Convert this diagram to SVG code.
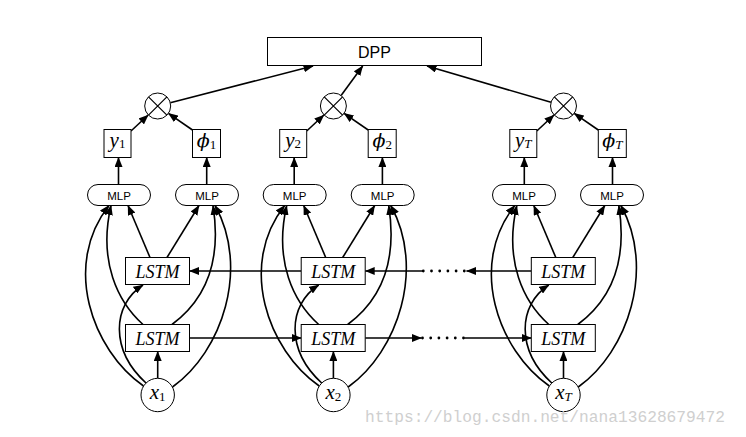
<svg xmlns="http://www.w3.org/2000/svg" width="746" height="437" viewBox="0 0 746 437">
<defs>
<marker id="ah" markerUnits="userSpaceOnUse" markerWidth="10" markerHeight="8" refX="9.5" refY="4" orient="auto"><path d="M0,0 L10,4 L0,8 z" fill="#000"/></marker>
<style>
.box{fill:#fff;stroke:#000;stroke-width:1}
.c{fill:none;stroke:#000;stroke-width:1.6;marker-end:url(#ah)}
.dots{fill:none;stroke:#000;stroke-width:2.8;stroke-linecap:round;stroke-dasharray:0 8.2}
.m{font-family:"Liberation Serif","DejaVu Serif",serif;font-style:italic;fill:#000}
.ph{font-family:"DejaVu Serif","Liberation Serif",serif;font-style:italic}
.sub{font-style:normal}
.s{font-family:"Liberation Sans",Arial,sans-serif;fill:#000;text-anchor:middle}
.mul{fill:#fff;stroke:#000;stroke-width:1}
.x{stroke:#000;stroke-width:1.2}
</style>
</defs>
<rect width="746" height="437" fill="#fff"/>

<g id="connectors">
  <!-- to DPP -->
  <path class="c" d="M170.3,102.8 L313,66"/>
  <path class="c" d="M341.1,95.5 L362.7,66"/>
  <path class="c" d="M551,102.3 L427,66"/>
  <!-- horizontal recurrences -->
  <path class="c" d="M301.2,271 L189.5,271"/>
  <path class="c" d="M531.3,271 L466.5,271"/>
  <path class="dots" d="M423.3,271 L465,271"/>
  <path class="c" d="M423.3,271 L365.2,271"/>
  <path class="c" d="M189.5,338 L301.2,338"/>
  <path class="c" d="M365.2,338 L421.5,338"/>
  <path class="dots" d="M422.5,338 L465,338"/>
  <path class="c" d="M464.3,338 L531.3,338"/>
  <!-- per-column connectors -->
  <g id="col-conn-1">
    <path class="c" d="M118.5,184.5 L118.5,157.5"/>
    <path class="c" d="M206.7,184.5 L206.7,157.5"/>
    <path class="c" d="M131,131 L148.2,115"/>
    <path class="c" d="M192.5,130 L168.4,113.4"/>
    <path class="c" d="M150,257.5 L128,205.5"/>
    <path class="c" d="M167,257.5 L199,205.5"/>
    <path class="c" d="M143,324.5 C118,302 98,262 111,205.5"/>
    <path class="c" d="M172,324.5 C205,300 222,262 213,205.5"/>
    <path class="c" d="M143.5,386 C92,350 62,265 109,205.5"/>
    <path class="c" d="M172.5,387 C222,352 250,268 215,205.5"/>
    <path class="c" d="M146,383 C110,350 112,305 143,285"/>
    <path class="c" d="M157.7,378.3 L157.7,351.5"/>
  </g>
  <g id="col-conn-2" transform="translate(175.7,0)">
    <path class="c" d="M118.5,184.5 L118.5,157.5"/>
    <path class="c" d="M206.7,184.5 L206.7,157.5"/>
    <path class="c" d="M131,131 L148.2,115"/>
    <path class="c" d="M192.5,130 L168.4,113.4"/>
    <path class="c" d="M150,257.5 L128,205.5"/>
    <path class="c" d="M167,257.5 L199,205.5"/>
    <path class="c" d="M143,324.5 C118,302 98,262 111,205.5"/>
    <path class="c" d="M172,324.5 C205,300 222,262 213,205.5"/>
    <path class="c" d="M143.5,386 C92,350 62,265 109,205.5"/>
    <path class="c" d="M172.5,387 C222,352 250,268 215,205.5"/>
    <path class="c" d="M146,383 C110,350 112,305 143,285"/>
    <path class="c" d="M157.7,378.3 L157.7,351.5"/>
  </g>
  <g id="col-conn-T" transform="translate(405.8,0)">
    <path class="c" d="M118.5,184.5 L118.5,157.5"/>
    <path class="c" d="M206.7,184.5 L206.7,157.5"/>
    <path class="c" d="M131,131 L148.2,115"/>
    <path class="c" d="M192.5,130 L168.4,113.4"/>
    <path class="c" d="M150,257.5 L128,205.5"/>
    <path class="c" d="M167,257.5 L199,205.5"/>
    <path class="c" d="M143,324.5 C118,302 98,262 111,205.5"/>
    <path class="c" d="M172,324.5 C205,300 222,262 213,205.5"/>
    <path class="c" d="M143.5,386 C92,350 62,265 109,205.5"/>
    <path class="c" d="M172.5,387 C222,352 250,268 215,205.5"/>
    <path class="c" d="M146,383 C110,350 112,305 143,285"/>
    <path class="c" d="M157.7,378.3 L157.7,351.5"/>
  </g>
</g>

<g id="dpp">
  <rect class="box" x="267.5" y="37.5" width="214" height="28"/>
  <text class="s" x="374.5" y="57.5" font-size="16">DPP</text>
</g>

<!-- column 1 -->
<g id="mul1"><circle class="mul" cx="157.7" cy="106" r="13"/><path class="x" d="M148.5,96.8 L166.9,115.2 M166.9,96.8 L148.5,115.2"/></g>
<g id="y1"><rect class="box" x="104" y="129.5" width="27" height="28"/><text class="m" x="117.5" y="147" text-anchor="middle" font-size="21">y<tspan class="sub" font-size="13" dy="1">1</tspan></text></g>
<g id="phi1"><rect class="box" x="192.5" y="129.5" width="28" height="28"/><text class="m" x="206.5" y="147" text-anchor="middle" font-size="19"><tspan class="ph">ϕ</tspan><tspan class="sub" font-size="13" dy="1.5">1</tspan></text></g>
<g id="mlp1a"><rect class="box" x="87.5" y="184.5" width="63" height="21" rx="10.5"/><text class="s" x="119" y="199.5" font-size="11.5">MLP</text></g>
<g id="mlp1b"><rect class="box" x="175.5" y="184.5" width="63" height="21" rx="10.5"/><text class="s" x="207" y="199.5" font-size="11.5">MLP</text></g>
<g id="lstm1u"><rect class="box" x="125.5" y="257.5" width="64" height="27"/><text class="m" x="157.5" y="277.5" text-anchor="middle" font-size="18">LSTM</text></g>
<g id="lstm1l"><rect class="box" x="125.5" y="324.5" width="64" height="27"/><text class="m" x="157.5" y="344.5" text-anchor="middle" font-size="18">LSTM</text></g>
<g id="x1"><circle class="mul" cx="157.7" cy="395" r="16.7"/><text class="m" x="157.7" y="399" text-anchor="middle" font-size="21">x<tspan class="sub" font-size="13" dy="1.5">1</tspan></text></g>

<!-- column 2 -->
<g id="mul2"><circle class="mul" cx="333.4" cy="106" r="13"/><path class="x" d="M324.2,96.8 L342.6,115.2 M342.6,96.8 L324.2,115.2"/></g>
<g id="y2"><rect class="box" x="279.7" y="129.5" width="27" height="28"/><text class="m" x="293.2" y="147" text-anchor="middle" font-size="21">y<tspan class="sub" font-size="13" dy="1">2</tspan></text></g>
<g id="phi2"><rect class="box" x="368.2" y="129.5" width="28" height="28"/><text class="m" x="382.2" y="147" text-anchor="middle" font-size="19"><tspan class="ph">ϕ</tspan><tspan class="sub" font-size="13" dy="1.5">2</tspan></text></g>
<g id="mlp2a"><rect class="box" x="263.2" y="184.5" width="63" height="21" rx="10.5"/><text class="s" x="294.7" y="199.5" font-size="11.5">MLP</text></g>
<g id="mlp2b"><rect class="box" x="351.2" y="184.5" width="63" height="21" rx="10.5"/><text class="s" x="382.7" y="199.5" font-size="11.5">MLP</text></g>
<g id="lstm2u"><rect class="box" x="301.2" y="257.5" width="64" height="27"/><text class="m" x="333.2" y="277.5" text-anchor="middle" font-size="18">LSTM</text></g>
<g id="lstm2l"><rect class="box" x="301.2" y="324.5" width="64" height="27"/><text class="m" x="333.2" y="344.5" text-anchor="middle" font-size="18">LSTM</text></g>
<g id="x2"><circle class="mul" cx="333.4" cy="395" r="16.7"/><text class="m" x="333.4" y="399" text-anchor="middle" font-size="21">x<tspan class="sub" font-size="13" dy="1.5">2</tspan></text></g>

<!-- column T -->
<g id="mulT"><circle class="mul" cx="563.5" cy="106" r="13"/><path class="x" d="M554.3,96.8 L572.7,115.2 M572.7,96.8 L554.3,115.2"/></g>
<g id="yT"><rect class="box" x="509.8" y="129.5" width="27" height="28"/><text class="m" x="523.3" y="147" text-anchor="middle" font-size="21">y<tspan font-size="13" dy="1">T</tspan></text></g>
<g id="phiT"><rect class="box" x="598.3" y="129.5" width="28" height="28"/><text class="m" x="612.3" y="147" text-anchor="middle" font-size="19"><tspan class="ph">ϕ</tspan><tspan font-size="13" dy="1.5">T</tspan></text></g>
<g id="mlpTa"><rect class="box" x="492.5" y="184.5" width="63" height="21" rx="10.5"/><text class="s" x="524" y="199.5" font-size="11.5">MLP</text></g>
<g id="mlpTb"><rect class="box" x="580.5" y="184.5" width="63" height="21" rx="10.5"/><text class="s" x="612" y="199.5" font-size="11.5">MLP</text></g>
<g id="lstmTu"><rect class="box" x="531.3" y="257.5" width="64" height="27"/><text class="m" x="563.3" y="277.5" text-anchor="middle" font-size="18">LSTM</text></g>
<g id="lstmTl"><rect class="box" x="531.3" y="324.5" width="64" height="27"/><text class="m" x="563.3" y="344.5" text-anchor="middle" font-size="18">LSTM</text></g>
<g id="xT"><circle class="mul" cx="563.5" cy="395" r="16.7"/><text class="m" x="563.5" y="399" text-anchor="middle" font-size="21">x<tspan font-size="13" dy="1.5">T</tspan></text></g>

<text x="365" y="422" font-family="'Liberation Mono','DejaVu Sans Mono',monospace" font-size="16" fill="#cfcfcf" textLength="360" lengthAdjust="spacingAndGlyphs">https://blog.csdn.net/nana13628679472</text>
</svg>
